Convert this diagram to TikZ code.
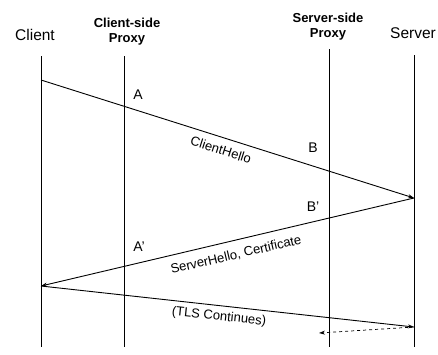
\documentclass[tikz,border=0pt]{standalone}
\usepackage{fontspec}
\setmainfont{Liberation Sans}
\usetikzlibrary{arrows.meta}
\begin{document}
\begin{tikzpicture}[x=1pt,y=-1pt,
  life/.style={line width=0.9pt},
  msg/.style={line width=0.9pt,-{Stealth[length=6pt,width=4pt]}},
  dmsg/.style={line width=0.7pt,dashed,-{Stealth[length=6pt,width=4pt]}},
  head/.style={font=\fontsize{15.5}{17}\selectfont},
  bhead/.style={font=\bfseries\fontsize{13}{15}\selectfont,align=center},
  ptlabel/.style={font=\fontsize{14}{16}\selectfont},
  lbl/.style={font=\fontsize{13}{15}\selectfont,inner sep=0pt}]
\useasboundingbox (0,0) rectangle (438,354);
% headers
\node[head] (hc) at (35,35) {Client};
\node[bhead] (hcp) at (127,32) {Client-side\\Proxy};
\node[bhead] (hsp) at (328,27) {Server-side\\Proxy};
\node[head] (hs) at (413,33) {Server};
% lifelines
\coordinate (c0) at (41,56);   \coordinate (c1) at (41,347);
\coordinate (p0) at (124,56);  \coordinate (p1) at (124,347);
\coordinate (q0) at (329,49);  \coordinate (q1) at (329,347);
\coordinate (s0) at (414,55);  \coordinate (s1) at (414,347);
\draw[life] (c0) -- (c1);
\draw[life] (p0) -- (p1);
\draw[life] (q0) -- (q1);
\draw[life] (s0) -- (s1);
% message end points
\coordinate (m1a) at (41,80);
\coordinate (m1b) at (414,198);
\coordinate (m2b) at (41,286);
\coordinate (m3b) at (414,327);
\coordinate (m4b) at (319,333);
\draw[msg] (m1a) -- (m1b);
\draw[msg] (m1b) -- (m2b);
\draw[msg] (m2b) -- (m3b);
\draw[dmsg] (m3b) -- (m4b);
% labels
\node[lbl,rotate=-17.6] (l1) at (221,150) {ClientHello};
\node[lbl,rotate=13.1] (l2) at (236,255) {ServerHello, Certificate};
\node[lbl,rotate=-6] (l3) at (219,317) {(TLS Continues)};
\node[ptlabel] (A) at (138,95) {A};
\node[ptlabel] (B) at (313,148) {B};
\node[ptlabel] (Bp) at (313,207) {B'};
\node[ptlabel] (Ap) at (139,247) {A'};
\end{tikzpicture}
\end{document}
